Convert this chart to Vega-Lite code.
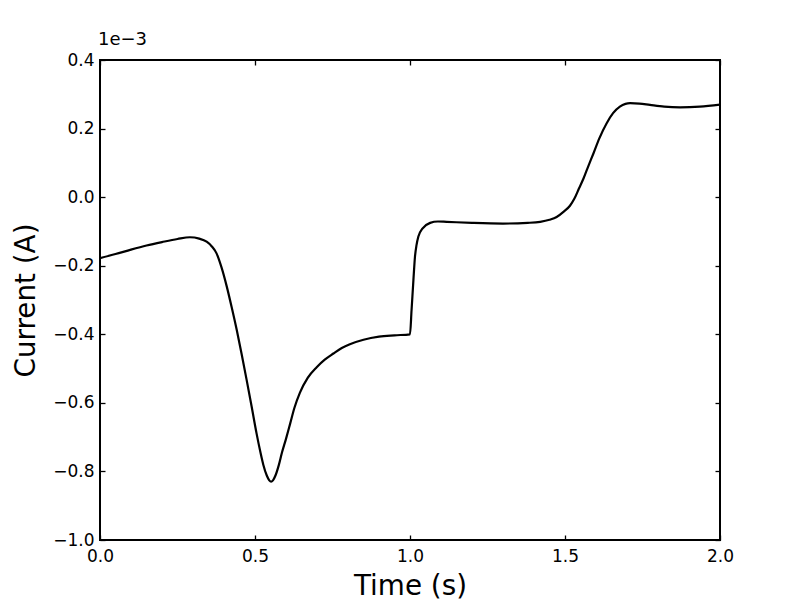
{
  "$schema": "https://vega.github.io/schema/vega-lite/v6.json",
  "width": 620,
  "height": 480,
  "autosize": "none",
  "padding": {"left": 100, "top": 60, "right": 80, "bottom": 60},
  "background": "white",
  "title": {"text": "1e\u22123", "anchor": "start", "frame": "group", "offset": 2, "fontSize": 18, "fontWeight": "normal", "font": "DejaVu Sans", "color": "black", "dx": -2},
  "config": {
    "view": {"stroke": "black", "strokeWidth": 2},
    "axis": {"grid": false, "domain": false, "tickColor": "black", "tickWidth": 1.3, "tickSize": -5, "labelFont": "DejaVu Sans", "labelColor": "black", "labelFlush": false, "labelOverlap": false, "titleFont": "DejaVu Sans", "titleFontSize": 27.8, "titleFontWeight": "normal", "titleColor": "black"}
  },
  "data": {"values": [
    {"t": 0, "I": -0.178}, {"t": 0.05, "I": -0.166}, {"t": 0.1, "I": -0.153}, {"t": 0.15, "I": -0.141},
    {"t": 0.2, "I": -0.131}, {"t": 0.25, "I": -0.122}, {"t": 0.29, "I": -0.117}, {"t": 0.32, "I": -0.121},
    {"t": 0.344, "I": -0.13}, {"t": 0.36, "I": -0.143}, {"t": 0.376, "I": -0.164}, {"t": 0.392, "I": -0.205},
    {"t": 0.409, "I": -0.261}, {"t": 0.425, "I": -0.322}, {"t": 0.441, "I": -0.387}, {"t": 0.457, "I": -0.458},
    {"t": 0.473, "I": -0.533}, {"t": 0.489, "I": -0.61}, {"t": 0.505, "I": -0.689}, {"t": 0.517, "I": -0.742},
    {"t": 0.527, "I": -0.781}, {"t": 0.538, "I": -0.812}, {"t": 0.546, "I": -0.826}, {"t": 0.552, "I": -0.83},
    {"t": 0.558, "I": -0.826}, {"t": 0.566, "I": -0.812}, {"t": 0.577, "I": -0.781},
    {"t": 0.587, "I": -0.745}, {"t": 0.6, "I": -0.705}, {"t": 0.613, "I": -0.662}, {"t": 0.627, "I": -0.615},
    {"t": 0.645, "I": -0.57}, {"t": 0.67, "I": -0.527}, {"t": 0.699, "I": -0.496}, {"t": 0.725, "I": -0.474}, {"t": 0.753, "I": -0.456},
    {"t": 0.78, "I": -0.44}, {"t": 0.806, "I": -0.429}, {"t": 0.85, "I": -0.416}, {"t": 0.9, "I": -0.407}, {"t": 0.95, "I": -0.403},
    {"t": 1.0, "I": -0.4}, {"t": 1.005, "I": -0.33}, {"t": 1.011, "I": -0.242}, {"t": 1.016, "I": -0.174},
    {"t": 1.021, "I": -0.14}, {"t": 1.027, "I": -0.115}, {"t": 1.04, "I": -0.092}, {"t": 1.065, "I": -0.075},
    {"t": 1.09, "I": -0.071}, {"t": 1.118, "I": -0.072}, {"t": 1.2, "I": -0.075}, {"t": 1.3, "I": -0.077},
    {"t": 1.38, "I": -0.075}, {"t": 1.42, "I": -0.072}, {"t": 1.45, "I": -0.066}, {"t": 1.473, "I": -0.058},
    {"t": 1.495, "I": -0.043}, {"t": 1.516, "I": -0.025}, {"t": 1.53, "I": -0.005}, {"t": 1.545, "I": 0.025},
    {"t": 1.56, "I": 0.055}, {"t": 1.575, "I": 0.09}, {"t": 1.592, "I": 0.128}, {"t": 1.61, "I": 0.17},
    {"t": 1.634, "I": 0.215}, {"t": 1.655, "I": 0.245}, {"t": 1.677, "I": 0.264}, {"t": 1.695, "I": 0.272},
    {"t": 1.71, "I": 0.274}, {"t": 1.74, "I": 0.273}, {"t": 1.774, "I": 0.269}, {"t": 1.82, "I": 0.264},
    {"t": 1.871, "I": 0.262}, {"t": 1.935, "I": 0.264}, {"t": 2.0, "I": 0.27}
  ]},
  "resolve": {"axis": {"x": "independent", "y": "independent"}},
  "layer": [
    {
      "mark": {"type": "line", "color": "black", "strokeWidth": 2.2, "interpolate": "monotone", "clip": true},
      "encoding": {
        "x": {"field": "t", "type": "quantitative", "scale": {"domain": [0, 2], "nice": false, "zero": false},
              "axis": {"orient": "bottom", "title": "Time (s)", "values": [0, 0.5, 1, 1.5, 2], "format": ".1f", "labelFontSize": 17, "labelPadding": 13, "titlePadding": 8}},
        "y": {"field": "I", "type": "quantitative", "scale": {"domain": [-1.0, 0.4], "nice": false, "zero": false},
              "axis": {"orient": "left", "title": "Current (A)", "values": [-1.0, -0.8, -0.6, -0.4, -0.2, 0.0, 0.2, 0.4], "labelExpr": "datum.value < -0.01 ? '\u2212' + format(-datum.value, '.1f') : format(abs(datum.value), '.1f')", "labelFontSize": 17, "labelPadding": 11, "titlePadding": 12}}
      }
    },
    {
      "mark": {"type": "line", "opacity": 0},
      "encoding": {
        "x": {"field": "t", "type": "quantitative", "axis": {"orient": "top", "title": null, "labels": false, "values": [0, 0.5, 1, 1.5, 2]}},
        "y": {"field": "I", "type": "quantitative", "axis": {"orient": "right", "title": null, "labels": false, "values": [-1.0, -0.8, -0.6, -0.4, -0.2, 0.0, 0.2, 0.4]}}
      }
    }
  ]
}
